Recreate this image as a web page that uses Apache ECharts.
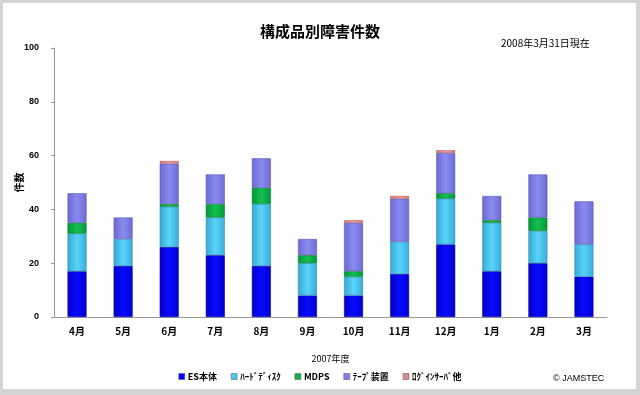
<!DOCTYPE html>
<html><head><meta charset="utf-8">
<script src="https://cdn.jsdelivr.net/npm/echarts@6/dist/echarts.min.js"></script>
<style>
html,body{margin:0;padding:0;background:#d4d4d4;}
#wrap{position:absolute;left:3px;top:3px;width:633px;height:386px;background:#fff;}
#c{width:640px;height:395px;position:absolute;left:-3px;top:-3px;}
</style></head>
<body><div id="wrap"><div id="c"></div></div>
<script>
const categories = ['4月','5月','6月','7月','8月','9月','10月','11月','12月','1月','2月','3月'];
const esHonTai   = [17,19,26,23,19, 8, 8,16,27,17,20,15];
const hardDisk   = [14,10,15,14,23,12, 7,12,17,18,12,12];
const mdps       = [ 4, 0, 1, 5, 6, 3, 2, 0, 2, 1, 5, 0];
const tape       = [11, 8,15,11,11, 6,18,16,15, 9,16,16];
const loginEtc   = [ 0, 0, 1, 0, 0, 0, 1, 1, 1, 0, 0, 0];
const yTicks = [0,20,40,60,80,100];
const seriesNames = ['ES本体','ﾊｰﾄﾞﾃﾞｨｽｸ','MDPS','ﾃｰﾌﾟ装置','ﾛｸﾞｲﾝｻｰﾊﾞ他'];

function grad(a,b,c){
  return new echarts.graphic.LinearGradient(0,0,1,0,[
    {offset:0,color:a},{offset:0.5,color:b},{offset:1,color:c}]);
}
const styles = [
  {fill:grad('#0000c8','#0a0aff','#0000d0'), border:'#0000a0', legend:'#0000ff'},
  {fill:grad('#35a8d0','#5ad4fa','#38acd8'), border:'#3090b8', legend:'#4cc8f0'},
  {fill:grad('#009838','#14c050','#009a3a'), border:'#007a2c', legend:'#10b048'},
  {fill:grad('#6a6ad0','#8a8af0','#6c6cd4'), border:'#5a5ab8', legend:'#8080e8'},
  {fill:grad('#d07070','#f0a0a0','#d07070'), border:'#c06060', legend:'#e08888'}
];
const dataArr = [esHonTai, hardDisk, mdps, tape, loginEtc];
const fontJP = '"Noto Sans CJK JP", sans-serif';

const chart = echarts.init(document.getElementById('c'));
chart.setOption({
  animation:false,
  backgroundColor:'transparent',
  title:[
    {text:'構成品別障害件数', left:'center', top:19,
     textStyle:{fontFamily:fontJP, fontSize:15, fontWeight:'bold', color:'#000'}},
    {text:'2008年3月31日現在', left:496, top:33,
     textStyle:{fontFamily:fontJP, fontSize:10, fontWeight:'normal', color:'#000'}},
    {text:'© JAMSTEC', left:548, top:369,
     textStyle:{fontFamily:'"Liberation Sans", Arial, sans-serif', fontSize:9, fontWeight:'normal', color:'#000'}}
  ],
  legend:{
    data: seriesNames.map((n,i)=>({name:n, itemStyle:{color:styles[i].legend, borderColor:'#555', borderWidth:0.5}})),
    left:'center', top:367, itemWidth:6, itemHeight:6, itemGap:14,
    icon:'rect',
    textStyle:{fontFamily:fontJP, fontSize:9, fontWeight:'bold', color:'#000', padding:[0,0,0,-2]}
  },
  grid:{left:54, right:33, top:48, bottom:78, outerBoundsMode:'none'},
  xAxis:{
    type:'category', data:categories,
    name:'2007年度', nameLocation:'middle', nameGap:37, nameMoveOverlap:false,
    nameTextStyle:{fontFamily:fontJP, fontSize:9, color:'#000'},
    axisLine:{lineStyle:{color:'#999'}},
    axisTick:{alignWithLabel:false, length:4, lineStyle:{color:'#999'}},
    axisLabel:{fontFamily:fontJP, fontSize:10, fontWeight:'bold', color:'#000', margin:9}
  },
  yAxis:{
    type:'value', min:0, max:100, interval:20,
    name:'件数', nameLocation:'middle', nameGap:30, nameRotate:90, nameMoveOverlap:false,
    nameTextStyle:{fontFamily:fontJP, fontSize:10, fontWeight:'bold', color:'#000'},
    axisLine:{show:true, lineStyle:{color:'#999'}},
    axisTick:{show:true, length:3, lineStyle:{color:'#999'}},
    splitLine:{show:false},
    axisLabel:{fontFamily:'"Liberation Sans", Arial, sans-serif', fontSize:9, fontWeight:'bold', color:'#000', margin:15,
      formatter:v=>yTicks.includes(v)?String(v):''}
  },
  series: seriesNames.map((n,i)=>({
    name:n, type:'bar', stack:'total', barWidth:19,
    data:dataArr[i].map(v=>v===0?'-':v),
    itemStyle:{color:styles[i].fill, borderColor:styles[i].border, borderWidth:0.6},
    emphasis:{disabled:true}
  }))
});
</script>
</body></html>
